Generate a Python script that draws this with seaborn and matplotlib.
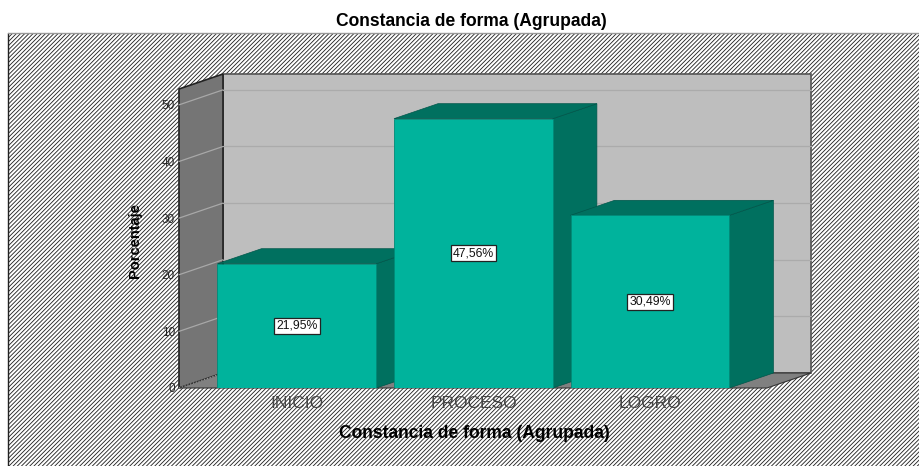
import pandas as pd
import matplotlib
matplotlib.use('Agg')
import matplotlib.pyplot as plt
from matplotlib.patches import Polygon, Rectangle
import seaborn as sns

categorias = ['INICIO', 'PROCESO', 'LOGRO']
porcentajes = [21.95, 47.56, 30.49]
etiquetas = ['21,95%', '47,56%', '30,49%']
ticks_y = [0, 10, 20, 30, 40, 50]

sns.set_style('white')
plt.rcParams['font.family'] = ['Liberation Sans', 'DejaVu Sans']
plt.rcParams['hatch.linewidth'] = 0.62

FRONTAL = '#00B39C'
OSCURO = '#00705F'

W, H = 920, 466
fig = plt.figure(figsize=(W / 100, H / 100), dpi=100)
fig.patch.set_facecolor('white')

# fondo rayado
fondo = Rectangle((8 / W, 0), 1 - 8 / W, 1 - 33 / H, transform=fig.transFigure,
                  facecolor='white', edgecolor='#222222', hatch='/' * 8, lw=0, zorder=-5)
fig.add_artist(fondo)
fig.add_artist(plt.Line2D([8 / W, 8 / W], [0, 1 - 33 / H], color='#222222', lw=1, zorder=-4))
fig.add_artist(plt.Line2D([8 / W, 1], [1 - 33 / H, 1 - 33 / H], color='#999999', lw=1, zorder=-4))

ax = fig.add_axes([179 / W, (H - 388) / H, 588 / W, 299 / H])
ax.patch.set_alpha(0)
for s in ax.spines.values():
    s.set_visible(False)

df = pd.DataFrame({'cat': categorias, 'pct': porcentajes})
sns.barplot(data=df, x='cat', y='pct', color=FRONTAL, saturation=1, width=0.9, ax=ax,
            edgecolor='#008A78', linewidth=0.6, zorder=20)

ax.set_xlim(-0.668, 2.663)
ax.set_ylim(0, 52.8)

# profundidad en unidades de datos
dx = 44 / 176.5
dy = 15 / 5.663
x0, x1 = ax.get_xlim()
y0, y1 = ax.get_ylim()


def cara(puntos, color, z, ec='none', lw=0):
    ax.add_patch(Polygon(puntos, closed=True, facecolor=color, edgecolor=ec, lw=lw,
                         zorder=z, clip_on=False))


# paredes y suelo
cara([(x0 + dx, y0 + dy), (x1 + dx, y0 + dy), (x1 + dx, y1 + dy), (x0 + dx, y1 + dy)], '#BEBEBE', 1, '#555555', 1.2)
cara([(x0, y0), (x0 + dx, y0 + dy), (x0 + dx, y1 + dy), (x0, y1)], '#757575', 2, '#222222', 1.2)
cara([(x0, y0), (x1, y0), (x1 + dx, y0 + dy), (x0 + dx, y0 + dy)], '#808080', 2, '#333333', 0.8)

# rejilla
ax.plot([x0, x0 + dx], [0, dy], color='#A8A8A8', lw=0.8, ls=':', zorder=3, clip_on=False)
for t in ticks_y[1:]:
    ax.plot([x0, x0 + dx], [t, t + dy], color='#A8A8A8', lw=0.9, zorder=3, clip_on=False)
    ax.plot([x0 + dx, x1 + dx], [t + dy, t + dy], color='#ABABAB', lw=0.9, zorder=3, clip_on=False)

# caras laterales y superiores de cada barra
for i, (barra, valor, txt) in enumerate(zip(ax.patches[:3], porcentajes, etiquetas)):
    izq = barra.get_x()
    der = izq + barra.get_width()
    z = 5 + i
    cara([(der, 0), (der + dx, dy), (der + dx, valor + dy), (der, valor)], OSCURO, z, '#00564A', 0.5)
    cara([(izq, valor), (der, valor), (der + dx, valor + dy), (izq + dx, valor + dy)], OSCURO, z, '#00564A', 0.5)
    ax.text(i, valor / 2, txt, ha='center', va='center', fontsize=8.8, color='#111111', zorder=30,
            bbox=dict(boxstyle='square,pad=0.16', facecolor='white', edgecolor='#222222', lw=0.9))

ax.set_yticks(ticks_y)
ax.set_yticklabels([str(t) for t in ticks_y], fontsize=8.5, color='#222222')
ax.tick_params(axis='y', length=0, pad=3)
ax.tick_params(axis='x', length=0, pad=6, labelsize=12.5, labelcolor='#444444')
ax.grid(False)
ax.set_xlabel('')
ax.set_ylabel('')

fig.text(471 / W, 1 - 22 / H, 'Constancia de forma (Agrupada)', ha='center', va='center',
         fontsize=12.65, fontweight='bold', color='black')
fig.text(474 / W, 1 - 433 / H, 'Constancia de forma (Agrupada)', ha='center', va='center',
         fontsize=12.65, fontweight='bold', color='black')
fig.text(135 / W, 1 - 241 / H, 'Porcentaje', ha='center', va='center', rotation=90,
         fontsize=10.5, fontweight='bold', color='black')

fig.savefig('out.png', dpi=100)
plt.close(fig)
